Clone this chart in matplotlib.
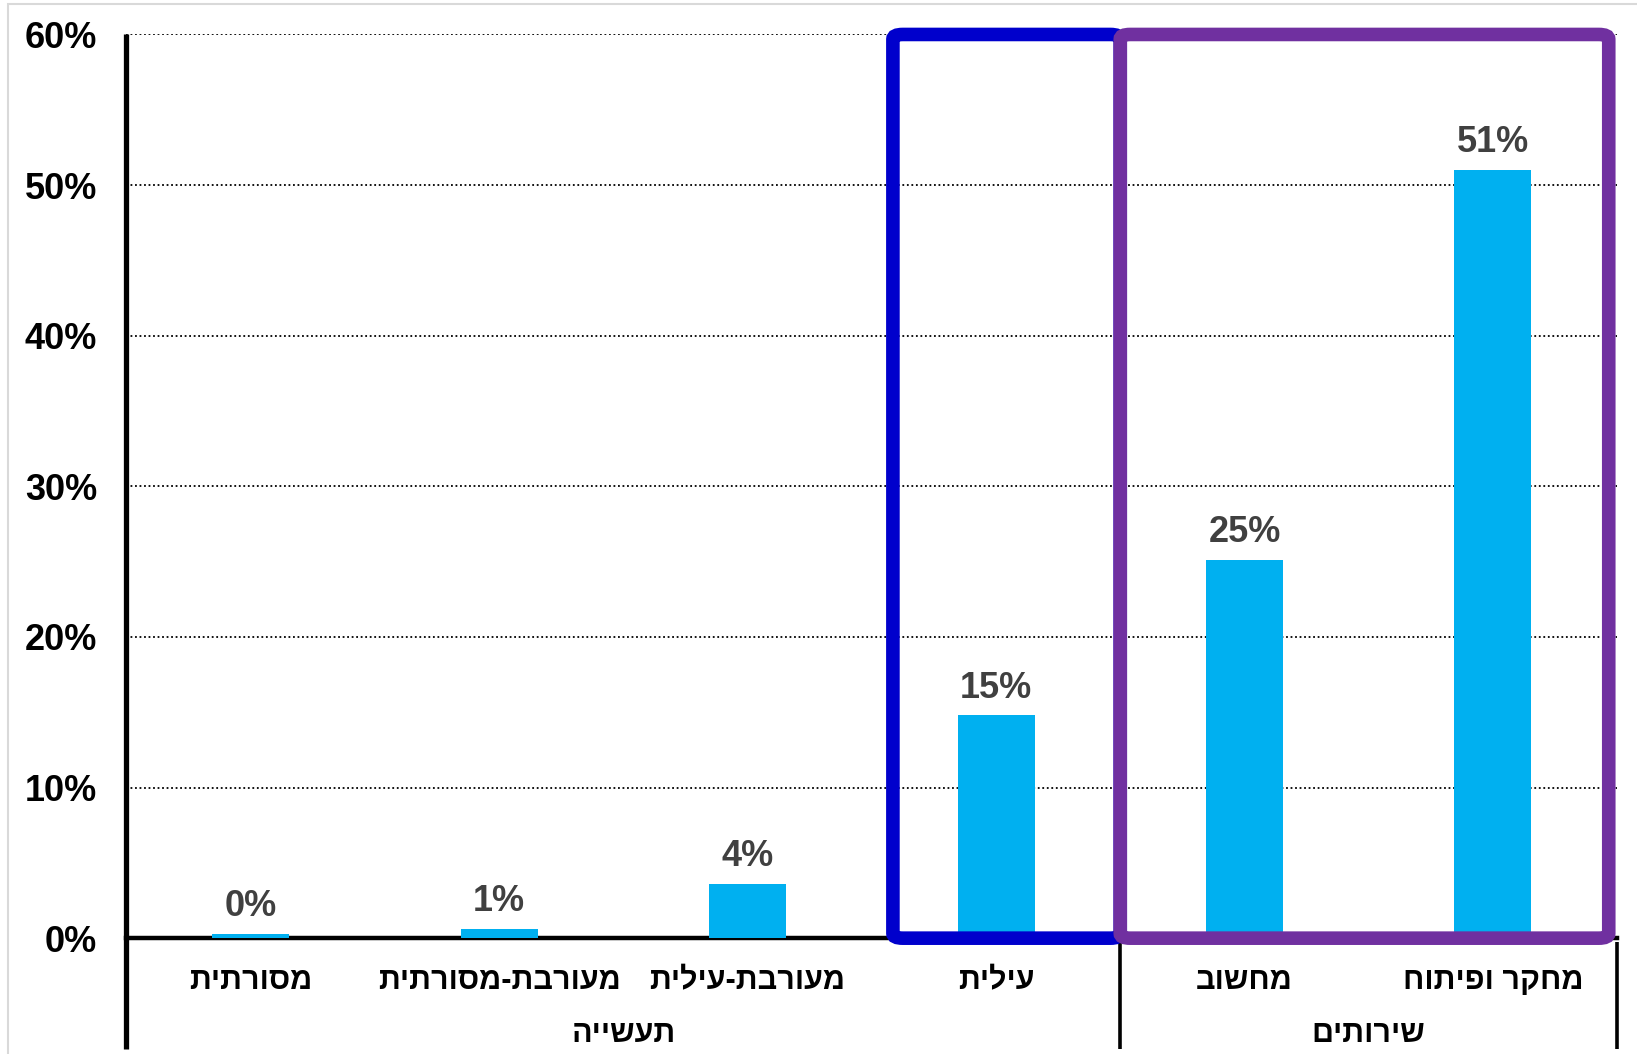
import matplotlib
matplotlib.use("Agg")
import matplotlib.pyplot as plt
from matplotlib.patches import FancyBboxPatch, Rectangle

plt.rcParams['font.family'] = ['Liberation Sans', 'DejaVu Sans']
plt.rcParams['font.weight'] = 'bold'

# data
categories = ["מסורתית", "מעורבת-מסורתית", "מעורבת-עילית", "עילית", "מחשוב", "מחקר ופיתוח"]
values = [0.3, 0.6, 3.6, 14.8, 25.1, 51.0]
groups = ["תעשייה", "שירותים"]
group_span = [(0, 3), (4, 5)]
yticks = [0, 10, 20, 30, 40, 50, 60]


def heb(s):
    # matplotlib has no bidi, so flip hebrew to visual order
    return s[::-1]


fig = plt.figure(figsize=(16.37, 10.54), dpi=100)
ax = fig.add_axes([0.0772, 0.1099, 0.9107, 0.8574])

# light grey frame of the chart area
fig.patches.append(Rectangle((0.0051, -0.01), 1.1, 1 - 0.004 + 0.01,
                             transform=fig.transFigure, fill=False,
                             edgecolor='#d9d9d9', linewidth=1.5))

x = list(range(len(categories)))
ax.bar(x, values, width=0.31, color='#00B0F0', zorder=3)

for xi, v in zip(x, values):
    ax.annotate('{:.0f}%'.format(v), (xi, v), xytext=(0, 7), textcoords='offset points',
                ha='center', va='bottom', fontsize=26, fontweight='bold', color='#404040')

ax.set_xlim(-0.5, 5.5)
ax.set_ylim(0, 60)
ax.set_yticks(yticks)
ax.set_yticklabels(['{}%'.format(t) for t in yticks], fontsize=26, fontweight='bold')
ax.tick_params(axis='y', length=0, pad=21)
ax.grid(axis='y', linestyle=(0, (1, 1.5)), color='black', linewidth=1.3, zorder=0)

ax.set_xticks([])

for s in ['top', 'right']:
    ax.spines[s].set_visible(False)
ax.spines['bottom'].set_linewidth(3.2)
ax.spines['left'].set_visible(False)

xt = ax.get_xaxis_transform()
for xi, c in zip(x, categories):
    ax.text(xi, -0.0475, heb(c), transform=xt, ha='center', va='center',
            fontsize=22, fontweight='bold')

for g, (a, b) in zip(groups, group_span):
    ax.text((a + b) / 2, -0.1065, heb(g), transform=xt, ha='center', va='center',
            fontsize=22, fontweight='bold')

# left axis line runs down through the category rows
ax.plot([-0.5, -0.5], [-0.1224, 1.0], transform=xt, color='black', linewidth=3.8,
        clip_on=False, zorder=5, solid_capstyle='butt')
for sep in [3.5, 5.5]:
    ax.plot([sep, sep], [-0.004, -0.1224], transform=xt, color='black', linewidth=2.6,
            clip_on=False, zorder=5, solid_capstyle='butt')

# highlight boxes
blue = FancyBboxPatch((2.585, 0), 3.5 - 2.585, 60,
                      boxstyle='round,pad=0,rounding_size=0.04',
                      mutation_aspect=8, fill=False, edgecolor='#0000CC',
                      linewidth=9.8, clip_on=False, zorder=6)
purple = FancyBboxPatch((3.5, 0), 5.466 - 3.5, 60,
                        boxstyle='round,pad=0,rounding_size=0.04',
                        mutation_aspect=8, fill=False, edgecolor='#7030A0',
                        linewidth=9.8, clip_on=False, zorder=7)
ax.add_patch(blue)
ax.add_patch(purple)

fig.savefig('out.png', dpi=100)
